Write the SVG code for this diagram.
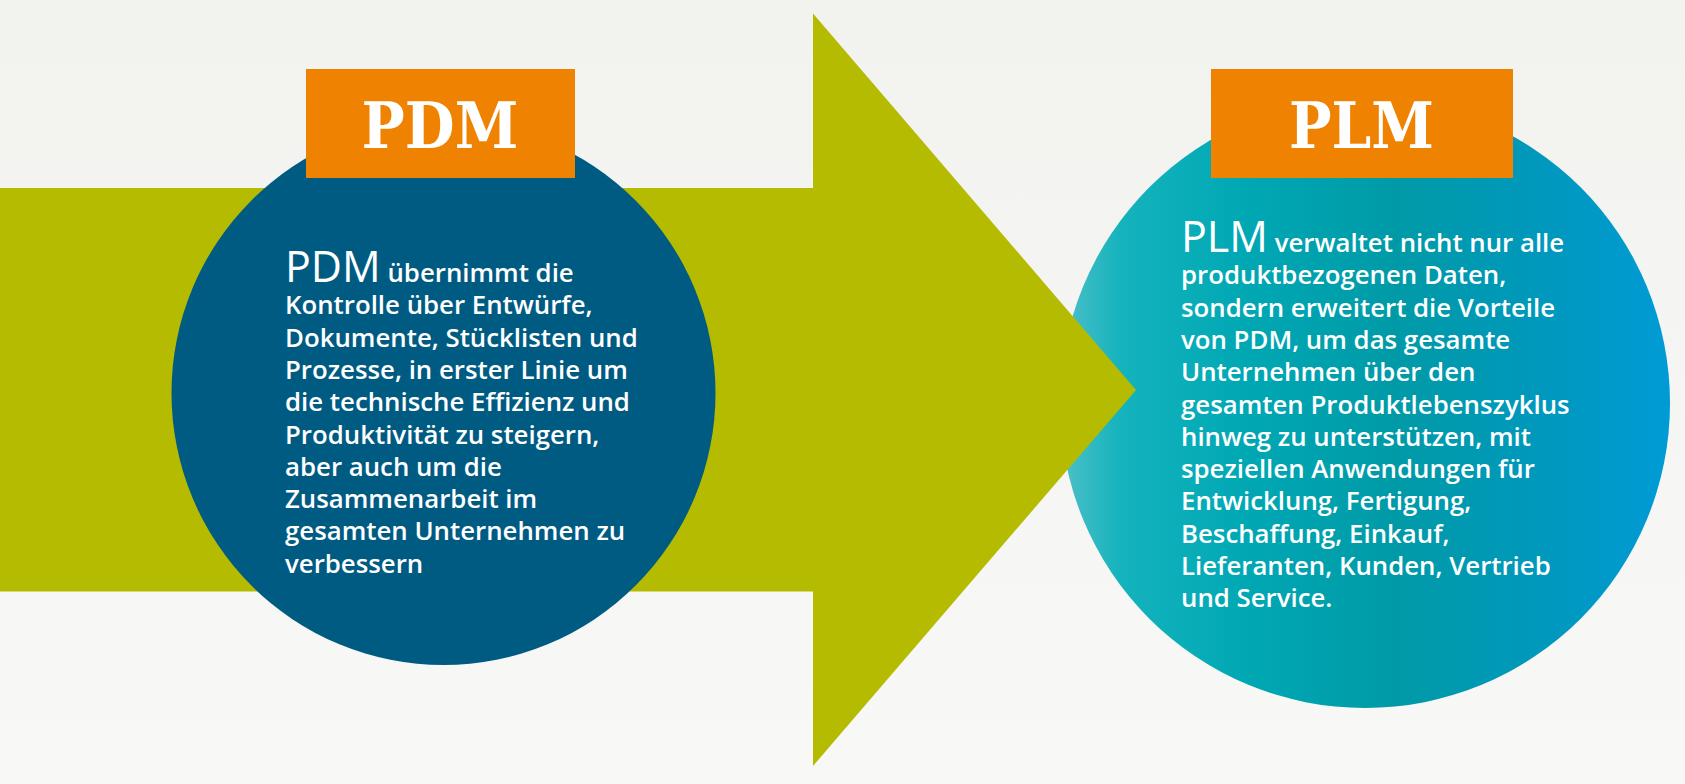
<svg xmlns="http://www.w3.org/2000/svg" width="1685" height="784" viewBox="0 0 1685 784">
  <defs>
    <linearGradient id="bg" x1="0" y1="0" x2="0" y2="1">
      <stop offset="0" stop-color="#f2f2ef"/>
      <stop offset="1" stop-color="#f8f8f7"/>
    </linearGradient>
    <linearGradient id="plmGrad" x1="1060" y1="0" x2="1670" y2="0" gradientUnits="userSpaceOnUse">
      <stop offset="0" stop-color="#4fc0c9"/>
      <stop offset="0.1" stop-color="#14b3bd"/>
      <stop offset="0.3" stop-color="#00a8b4"/>
      <stop offset="0.55" stop-color="#009aa7"/>
      <stop offset="0.8" stop-color="#0098bd"/>
      <stop offset="1" stop-color="#009bd6"/>
    </linearGradient>
    <style>
      .title { font-family: "DejaVu Serif", "Liberation Serif", serif; font-weight: bold; font-size: 64px; fill: #ffffff; }
      .body { font-family: "Open Sans", "Noto Sans", "DejaVu Sans", sans-serif; font-weight: 600; font-size: 25.8px; fill: #ffffff; }
      .big { font-size: 43px; font-weight: 400; }
      .tag { fill: #ef8200; }
    </style>
  </defs>

  <rect x="0" y="0" width="1685" height="784" fill="url(#bg)"/>

  <g id="plm">
    <circle cx="1365" cy="403" r="305" fill="url(#plmGrad)"/>
    <rect class="tag" x="1211" y="69" width="302" height="109"/>
    <text class="title" x="1361.5" y="148" text-anchor="middle" textLength="145" lengthAdjust="spacingAndGlyphs">PLM</text>
    <text class="body">
      <tspan x="1181" y="252"><tspan class="big">PLM</tspan> verwaltet nicht nur alle</tspan>
      <tspan x="1181" y="284.3">produktbezogenen Daten,</tspan>
      <tspan x="1181" y="316.6">sondern erweitert die Vorteile</tspan>
      <tspan x="1181" y="348.9">von PDM, um das gesamte</tspan>
      <tspan x="1181" y="381.2">Unternehmen über den</tspan>
      <tspan x="1181" y="413.5">gesamten Produktlebenszyklus</tspan>
      <tspan x="1181" y="445.8">hinweg zu unterstützen, mit</tspan>
      <tspan x="1181" y="478.1">speziellen Anwendungen für</tspan>
      <tspan x="1181" y="510.4">Entwicklung, Fertigung,</tspan>
      <tspan x="1181" y="542.7">Beschaffung, Einkauf,</tspan>
      <tspan x="1181" y="575">Lieferanten, Kunden, Vertrieb</tspan>
      <tspan x="1181" y="607.3">und Service.</tspan>
    </text>
  </g>

  <g id="connectors">
    <polygon points="0,188 813,188 813,13.5 1136,390 813,766 813,591.5 0,591.5" fill="#b5bb00"/>
  </g>

  <g id="pdm">
    <circle cx="443.5" cy="393" r="272" fill="#005b82"/>
    <rect class="tag" x="306" y="69" width="269" height="109"/>
    <text class="title" x="440" y="148" text-anchor="middle" textLength="157" lengthAdjust="spacingAndGlyphs">PDM</text>
    <text class="body">
      <tspan x="285" y="282"><tspan class="big">PDM</tspan> übernimmt die</tspan>
      <tspan x="285" y="314.3">Kontrolle über Entwürfe,</tspan>
      <tspan x="285" y="346.6">Dokumente, Stücklisten und</tspan>
      <tspan x="285" y="378.9">Prozesse, in erster Linie um</tspan>
      <tspan x="285" y="411.2">die technische Effizienz und</tspan>
      <tspan x="285" y="443.5">Produktivität zu steigern,</tspan>
      <tspan x="285" y="475.8">aber auch um die</tspan>
      <tspan x="285" y="508.1">Zusammenarbeit im</tspan>
      <tspan x="285" y="540.4">gesamten Unternehmen zu</tspan>
      <tspan x="285" y="572.7">verbessern</tspan>
    </text>
  </g>
</svg>
